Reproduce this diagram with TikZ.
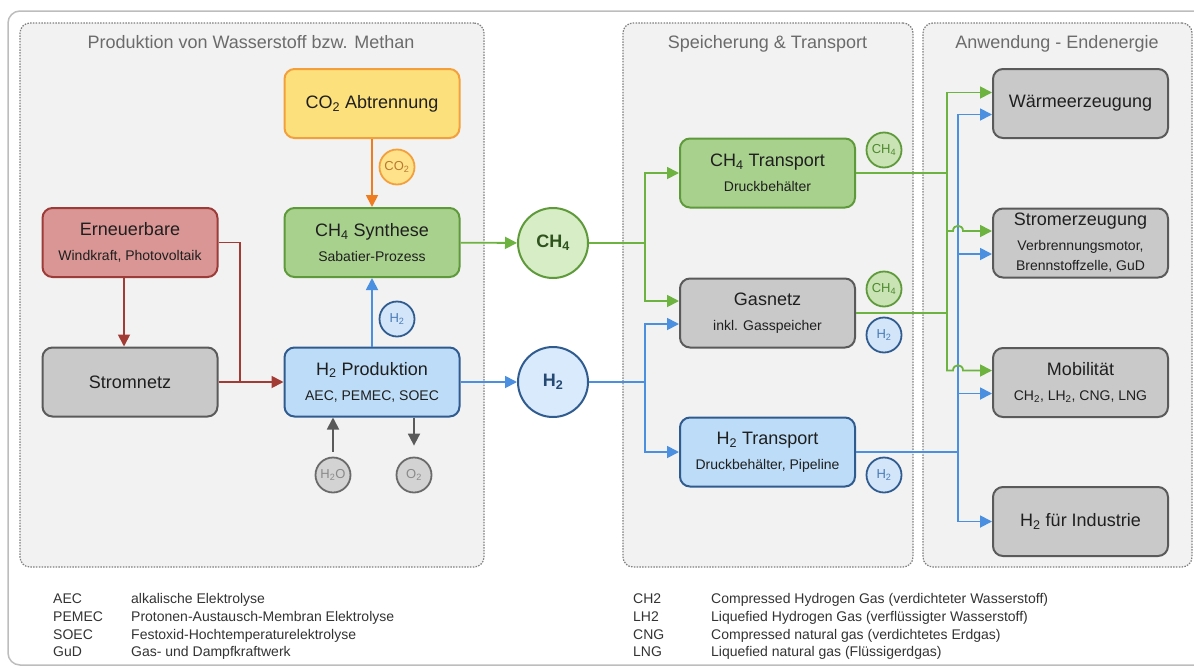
\documentclass[tikz,border=0pt]{standalone}
\usepackage{fontspec}
\setmainfont{Liberation Sans}
\usetikzlibrary{arrows.meta}
\definecolor{grpfill}{HTML}{F2F2F2}
\definecolor{grpline}{HTML}{7F7F7F}
\definecolor{outerline}{HTML}{BDBDBD}
\definecolor{titletxt}{HTML}{6B6B6B}
\definecolor{txt}{HTML}{1F1F1F}
\definecolor{legtxt}{HTML}{333333}
\definecolor{yelfill}{HTML}{FCE07C}
\definecolor{yelborder}{HTML}{F3A03C}
\definecolor{orangeline}{HTML}{EE7D22}
\definecolor{greenfill}{HTML}{A9D18E}
\definecolor{greenborder}{HTML}{5E9A3A}
\definecolor{greenline}{HTML}{6DB33F}
\definecolor{redfill}{HTML}{D99694}
\definecolor{redborder}{HTML}{9C3B38}
\definecolor{redline}{HTML}{A33B35}
\definecolor{grayfill}{HTML}{C9C9C9}
\definecolor{grayborder}{HTML}{5A5A5A}
\definecolor{bluefill}{HTML}{BCDCF7}
\definecolor{blueborder}{HTML}{2F5B8F}
\definecolor{blueline}{HTML}{4A8FE0}
\definecolor{ch4big}{HTML}{D6EDC6}
\definecolor{h2big}{HTML}{D8EAFB}
\definecolor{ch4small}{HTML}{C9E3B5}
\definecolor{ch4txt}{HTML}{4E8A2E}
\definecolor{h2small}{HTML}{D3E6F9}
\definecolor{h2txt}{HTML}{4A7AB5}
\definecolor{co2small}{HTML}{FFE28A}
\definecolor{co2txt}{HTML}{B87A30}
\definecolor{gsmall}{HTML}{D3D3D3}
\definecolor{gsmallborder}{HTML}{6A6A6A}
\definecolor{gsmalltxt}{HTML}{8A8A8A}
\begin{document}
\begin{tikzpicture}[x=1pt,y=-1pt,
  grp/.style={rectangle, rounded corners=10pt, draw=grpline, fill=grpfill, line width=1.2pt, dash pattern=on 1.5pt off 1.3pt, inner sep=0pt},
  grptitle/.style={anchor=base, inner sep=0pt, text=titletxt, font=\fontsize{18}{18}\selectfont},
  box/.style={rectangle, rounded corners=10pt, line width=2pt, minimum width=175pt, minimum height=69pt, inner sep=0pt, align=center, text=txt, font=\fontsize{14}{25}\selectfont},
  gbox/.style={box, fill=greenfill, draw=greenborder},
  ybox/.style={box, fill=yelfill, draw=yelborder},
  rbox/.style={box, fill=redfill, draw=redborder},
  graybox/.style={box, fill=grayfill, draw=grayborder},
  bbox/.style={box, fill=bluefill, draw=blueborder},
  lbl/.style={circle, line width=1.8pt, minimum size=35pt, inner sep=0pt, font=\fontsize{13}{13}\selectfont},
  bigc/.style={circle, line width=2pt, minimum size=70pt, inner sep=0pt, font=\bfseries\fontsize{18}{18}\selectfont},
  con/.style={line width=1.8pt},
  gcon/.style={con, draw=greenline},
  bcon/.style={con, draw=blueline},
  rcon/.style={con, draw=redline},
  ocon/.style={con, draw=orangeline},
  graycon/.style={con, draw=grayborder},
  tip/.style={-{Triangle[length=12pt,width=12pt]}},
  leg/.style={anchor=base west, inner sep=0pt, text=legtxt, font=\fontsize{14}{14}\selectfont}
]
\useasboundingbox (0,0) rectangle (1194,667);
\begin{scope}
  \clip (0,0) rectangle (1194,667);
  \draw[draw=outerline, line width=1.5pt, rounded corners=12pt, fill=white] (8,11) rectangle (1220,665);
\end{scope}

% groups
\node[grp, minimum width=464pt, minimum height=544pt] (g1) at (252,295) {};
\node[grp, minimum width=290pt, minimum height=544pt] (g2) at (768,295) {};
\node[grp, minimum width=269pt, minimum height=544pt] (g3) at (1057.5,295) {};
\node[grptitle] (t1) at (251,48.5) {Produktion von Wasserstoff bzw. Methan};
\node[grptitle] (t2) at (767.5,48.5) {Speicherung \& Transport};
\node[grptitle] (t3) at (1057,48.5) {Anwendung - Endenergie};

% boxes
\node[ybox] (co2abt) at (372,103.5) {{\fontsize{18}{25}\selectfont CO\textsubscript{2} Abtrennung}};
\node[gbox] (ch4syn) at (372,242.5) {{\fontsize{18}{25}\selectfont CH\textsubscript{4} Synthese}\\Sabatier-Prozess};
\node[rbox] (ern) at (130,242.5) {{\fontsize{18}{25}\selectfont Erneuerbare}\\Windkraft, Photovoltaik};
\node[graybox] (strom) at (130,382) {{\fontsize{18}{25}\selectfont Stromnetz}};
\node[bbox] (h2prod) at (372,382) {{\fontsize{18}{25}\selectfont H\textsubscript{2} Produktion}\\AEC, PEMEC, SOEC};

\node[gbox] (ch4tr) at (767.5,173) {{\fontsize{18}{25}\selectfont CH\textsubscript{4} Transport}\\Druckbehälter};
\node[graybox] (gas) at (767.5,313) {{\fontsize{18}{25}\selectfont Gasnetz}\\inkl. Gasspeicher};
\node[bbox] (h2tr) at (767.5,452) {{\fontsize{18}{25}\selectfont H\textsubscript{2} Transport}\\Druckbehälter, Pipeline};

\node[graybox] (waerme) at (1080.5,103.5) {{\fontsize{18}{25}\selectfont Wärmeerzeugung}};
\node[graybox] (stromz) at (1080.5,243) {{\fontsize{18}{25}\selectfont Stromerzeugung}\\Verbrennungsmotor,\\[-5pt]Brennstoffzelle, GuD};
\node[graybox] (mob) at (1080.5,382.5) {{\fontsize{18}{25}\selectfont Mobilität}\\CH\textsubscript{2}, LH\textsubscript{2}, CNG, LNG};
\node[graybox] (ind) at (1080.5,521.5) {{\fontsize{18}{25}\selectfont H\textsubscript{2} für Industrie}};

% big circles
\node[bigc, fill=ch4big, draw=greenborder, text=ch4txt!60!black] (ch4c) at (553,243) {CH\textsubscript{4}};
\node[bigc, fill=h2big, draw=blueborder, text=blueborder!80!black] (h2c) at (553,382) {H\textsubscript{2}};

% label circles
\node[lbl, fill=co2small, draw=yelborder, text=co2txt] (co2l) at (397,167) {CO\textsubscript{2}};
\node[lbl, fill=h2small, draw=blueborder, text=h2txt] (h2l) at (397,319) {H\textsubscript{2}};
\node[lbl, fill=gsmall, draw=gsmallborder, text=gsmalltxt] (h2o) at (333,475) {H\textsubscript{2}O};
\node[lbl, fill=gsmall, draw=gsmallborder, text=gsmalltxt] (o2) at (414,475) {O\textsubscript{2}};
\node[lbl, fill=ch4small, draw=greenborder, text=ch4txt] (ch4l1) at (884,150) {CH\textsubscript{4}};
\node[lbl, fill=ch4small, draw=greenborder, text=ch4txt] (ch4l2) at (884,289) {CH\textsubscript{4}};
\node[lbl, fill=h2small, draw=blueborder, text=h2txt] (h2l2) at (884,335) {H\textsubscript{2}};
\node[lbl, fill=h2small, draw=blueborder, text=h2txt] (h2l3) at (884,475) {H\textsubscript{2}};

% left connectors
\draw[ocon,tip] (co2abt) -- (ch4syn);
\draw[bcon,tip] (h2prod) -- (ch4syn);
\draw[gcon,tip] (ch4syn) -- (ch4c);
\draw[bcon,tip] (h2prod) -- (h2c);
\draw[rcon,tip] ([xshift=-6pt]ern.south) -- ([xshift=-6pt]strom.north);
\coordinate (rx) at (240,0);
\draw[rcon,tip] (ern.east) -| (h2prod.west -| rx) -- (h2prod.west);
\draw[rcon] (strom.east) -- (h2prod.west -| rx);
\coordinate (h2ostart) at ([yshift=5pt]h2o.north);
\draw[graycon,tip] (h2ostart) -- (h2ostart |- h2prod.south);
\coordinate (o2end) at ([yshift=11pt]o2.north);
\draw[graycon,tip] (o2end |- h2prod.south) -- (o2end);

% middle connectors
\coordinate (gj) at (645,0);
\coordinate (gasg) at ([yshift=12pt]gas.west);
\coordinate (gasb) at ([yshift=-11pt]gas.west);
\draw[gcon] (ch4c.east) -- (ch4c.east -| gj);
\draw[gcon,tip] (ch4c.east -| gj) |- (ch4tr.west);
\draw[gcon,tip] (ch4c.east -| gj) |- (gasg);
\draw[bcon] (h2c.east) -- (h2c.east -| gj);
\draw[bcon,tip] (h2c.east -| gj) |- (gasb);
\draw[bcon,tip] (h2c.east -| gj) |- (h2tr.west);

% right connectors
\coordinate (gx) at (947,0);
\coordinate (bx) at (958,0);
\coordinate (jl) at (953,0);
\coordinate (jr) at (963,0);
\coordinate (wg) at ([yshift=11pt]waerme.west);
\coordinate (wb) at ([yshift=-11pt]waerme.west);
\coordinate (sg) at ([yshift=12pt]stromz.west);
\coordinate (sb) at ([yshift=-11pt]stromz.west);
\coordinate (mg) at ([yshift=12pt]mob.west);
\coordinate (mb) at ([yshift=-11pt]mob.west);

\draw[bcon] (h2tr.east) -- (h2tr.east -| bx);
\draw[bcon,tip] (h2tr.east -| bx) |- (wb);
\draw[bcon,tip] (h2tr.east -| bx) |- (sb);
\draw[bcon,tip] (h2tr.east -| bx) |- (mb);
\draw[bcon,tip] (h2tr.east -| bx) |- (ind.west);

\draw[gcon] (ch4tr.east) -- (ch4tr.east -| gx);
\draw[gcon] (gas.east) -- (gas.east -| gx);
\draw[gcon,tip] (ch4tr.east -| gx) |- (wg);
\draw[gcon,tip] (ch4tr.east -| gx) -- (sg -| gx) -- (sg -| jl) .. controls +(0,-7) and +(0,-7) .. (sg -| jr) -- (sg);
\draw[gcon,tip] (ch4tr.east -| gx) -- (mg -| gx) -- (mg -| jl) .. controls +(0,-7) and +(0,-7) .. (mg -| jr) -- (mg);

% legend
\node[leg] (la1) at (53,603) {AEC};
\node[leg] (lb1) at (131,603) {alkalische Elektrolyse};
\node[leg] (la2) at (53,621) {PEMEC};
\node[leg] (lb2) at (131,621) {Protonen-Austausch-Membran Elektrolyse};
\node[leg] (la3) at (53,639) {SOEC};
\node[leg] (lb3) at (131,639) {Festoxid-Hochtemperaturelektrolyse};
\node[leg] (la4) at (53,656) {GuD};
\node[leg] (lb4) at (131,656) {Gas- und Dampfkraftwerk};
\node[leg] (ra1) at (633,603) {CH2};
\node[leg] (rb1) at (711,603) {Compressed Hydrogen Gas (verdichteter Wasserstoff)};
\node[leg] (ra2) at (633,621) {LH2};
\node[leg] (rb2) at (711,621) {Liquefied Hydrogen Gas (verflüssigter Wasserstoff)};
\node[leg] (ra3) at (633,639) {CNG};
\node[leg] (rb3) at (711,639) {Compressed natural gas (verdichtetes Erdgas)};
\node[leg] (ra4) at (633,656) {LNG};
\node[leg] (rb4) at (711,656) {Liquefied natural gas (Flüssigerdgas)};
\end{tikzpicture}
\end{document}
